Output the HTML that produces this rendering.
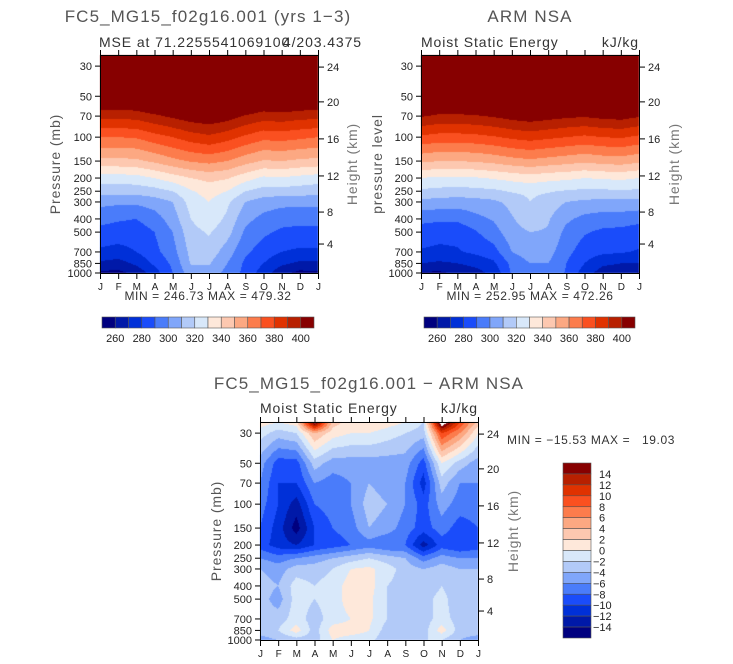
<!DOCTYPE html>
<html><head><meta charset="utf-8">
<style>
html,body{margin:0;padding:0;background:#fff;}
#wrap{position:relative;width:733px;height:664px;overflow:hidden;font-family:"Liberation Sans",sans-serif;}
canvas,svg{position:absolute;left:0;top:0;}
.tt{letter-spacing:1.1px;}
.st{letter-spacing:0.9px;}
.mm{letter-spacing:0.6px;}
</style></head>
<body>
<div id="wrap">
<canvas id="cv" width="733" height="664"></canvas>
<svg id="sv" width="733" height="664" viewBox="0 0 733 664" font-family="Liberation Sans, sans-serif">
  <text class="tt" x="208" y="22" font-size="17" fill="#555" text-anchor="middle">FC5_MG15_f02g16.001 (yrs 1−3)</text>
  <text class="st" x="99" y="47" font-size="14" fill="#333">MSE at 71.2255541069100</text>
  <text class="st" x="362" y="47" font-size="14" fill="#333" text-anchor="end">4/203.4375</text>
  <text class="tt" x="530" y="22" font-size="17" fill="#555" text-anchor="middle">ARM NSA</text>
  <text class="st" x="421" y="47" font-size="14" fill="#333">Moist Static Energy</text>
  <text class="st" x="639" y="47" font-size="14" fill="#333" text-anchor="end">kJ/kg</text>
  <text class="tt" x="369" y="389" font-size="17" fill="#555" text-anchor="middle">FC5_MG15_f02g16.001 − ARM NSA</text>
  <text class="st" x="260" y="413" font-size="14" fill="#333">Moist Static Energy</text>
  <text class="st" x="478" y="413" font-size="14" fill="#333" text-anchor="end">kJ/kg</text>
  <text class="mm" x="208" y="300" font-size="12" fill="#333" text-anchor="middle">MIN = 246.73 MAX = 479.32</text>
  <text class="mm" x="530" y="300" font-size="12" fill="#333" text-anchor="middle">MIN = 252.95 MAX = 472.26</text>
  <text class="mm" x="507" y="444" font-size="12" fill="#333" xml:space="preserve">MIN = −15.53 MAX =   19.03</text>
  <text class="st" transform="translate(60,164) rotate(-90)" font-size="14" fill="#555" text-anchor="middle">Pressure (mb)</text>
  <text class="st" transform="translate(357,164) rotate(-90)" font-size="14" fill="#777" text-anchor="middle">Height (km)</text>
  <text class="st" transform="translate(382,164) rotate(-90)" font-size="14" fill="#555" text-anchor="middle">pressure level</text>
  <text class="st" transform="translate(679,164) rotate(-90)" font-size="14" fill="#777" text-anchor="middle">Height (km)</text>
  <text class="st" transform="translate(221,531) rotate(-90)" font-size="14" fill="#555" text-anchor="middle">Pressure (mb)</text>
  <text class="st" transform="translate(518,531) rotate(-90)" font-size="14" fill="#777" text-anchor="middle">Height (km)</text>
  <g id="dyn"></g>
</svg>
</div>
<script>
// ---- shared axis data ----
const levels = [25,30,50,70,100,150,200,250,300,400,500,700,850,1000];
const pressureTicks = [30,50,70,100,150,200,250,300,400,500,700,850,1000];
const heightTickLabels = ["24","20","16","12","8","4"];
const heightTickPressures = [30.5,55,103,193,356,612];
const monthLabels = ["J","F","M","A","M","J","J","A","S","O","N","D","J"];
const colors = ['#00007f','#0019a8','#0030d8','#1a4cfa','#4a7cfa','#80a6fa','#b2caf8','#d8e8fa','#fee8da','#fdc8b0','#fca882','#fc7c4c','#fa5020','#e03200','#b82000','#870000'];
const mseBounds = [260,270,280,290,300,310,320,330,340,350,360,370,380,390,400];
const mseLabels = ["260","280","300","320","340","360","380","400"];
const diffBounds = [-14,-12,-10,-8,-6,-4,-2,0,2,4,6,8,10,12,14];
const diffLabels = ["14","12","10","8","6","4","2","0","−2","−4","−6","−8","−10","−12","−14"];

// ---- model MSE (month x level) ----
const modelJan=[455,445,415,393,370,347,325,314,303,293,287,278,268,258];
const modelFeb=[455,445,415,393,370,347,325,314,302,291,286,276,266,257];
const modelMar=[455,445,416,394,371,348,326,314,302,290,285,280,272,263];
const modelApr=[456,447,420,398,376,352,330,316,305,295,290,287,282,275];
const modelMay=[458,450,424,402,380,357,335,320,310,305,300,296,292,290];
const modelJun=[460,452,427,406,385,361,340,329,324,320,317,313,311,305];
const modelJul=[460,453,428,408,388,363,343,334,330,326,321,316,311,305];
const modelAug=[458,451,426,405,384,360,341,330,322,318,314,305,300,297];
const modelSep=[457,448,421,399,378,354,334,320,310,303,298,292,288,287];
const modelOct=[455,445,416,395,373,349,328,316,305,297,292,285,280,275];
const modelNov=[455,446,418,396,374,350,329,316,303,294,288,280,272,263];
const modelDec=[455,445,416,394,372,348,327,315,303,293,287,278,268,257];
const modelJan2=[455,445,415,393,370,347,325,314,303,293,287,278,268,258];

// ---- ARM NSA MSE ----
const obsJan=[450,442,420,401,378,352,330,318,307,293,285,279,270,259];
const obsFeb=[450,442,418,398,376,350,328,317,306,292,283,278,268,258];
const obsMar=[450,442,418,398,376,350,328,316,305,292,283,279,270,262];
const obsApr=[451,443,419,399,377,351,329,317,306,297,289,282,273,266];
const obsMay=[452,445,421,401,379,353,331,318,308,301,296,286,278,273];
const obsJun=[454,447,424,404,382,356,333,321,313,309,306,300,293,291];
const obsJul=[455,448,426,406,384,358,335,322,320,316,310,305,300,296];
const obsAug=[454,447,425,404,382,356,333,321,315,311,309,304,300,298];
const obsSep=[452,445,422,402,380,354,332,319,310,302,297,293,290,289];
const obsOct=[451,443,420,401,378,352,330,318,308,297,291,285,280,275];
const obsNov=[451,444,422,403,380,354,331,318,307,295,288,282,272,265];
const obsDec=[452,445,424,404,381,355,332,319,307,295,287,281,270,263];
const obsJan2=[450,442,420,401,378,352,330,318,307,293,285,279,270,259];

// ---- difference ----
const diffJan=[1,-1,-5,-6,-7,-8,-9,-6,-4,-3,-3,-3,-3,-5];
const diffFeb=[0,-3,-9,-10,-10,-11,-11,-7,-5,-4,-5,-3,-2,-4];
const diffMar=[1,-2,-9,-10,-13,-15,-12,-6,-3,-1,-1,-1,1,-3];
const diffApr=[17,4,-3,-6,-8,-10,-10,-5,-3,-2,-2,-3,-3,-3];
const diffMay=[3,1,-5,-7,-7,-8,-9,-4,-2,-1,-1,-1,1,0];
const diffJun=[1,0,-5,-6,-6,-7,-8,-3,0,1,1,0,1,-1];
const diffJul=[2,0,-5,-4,-3,-4,-7,-2,0.5,1,0.5,0.5,0,-1];
const diffAug=[1,-1,-5,-5,-4,-5,-8,-3,-1,-2,-2,-2,-3,-4];
const diffSep=[0,-2,-5,-6,-6,-7,-8,-4,-3,-3,-3,-3,-3,-3];
const diffOct=[-2,-3,-9,-11,-9,-9,-13,-7,-4,-4,-3,-3,-3,-2];
const diffNov=[19,10,0,-3,-5,-7,-9,-5,-3,-2,-1,-1,1,-2];
const diffDec=[10,6,-3,-6,-7,-9,-10,-6,-4,-4,-4,-3,-3,-4];
const diffJan2=[3,0,-5,-6,-7,-8,-9,-6,-4,-3,-3,-3,-3,-5];

const modelField=[modelJan,modelFeb,modelMar,modelApr,modelMay,modelJun,modelJul,modelAug,modelSep,modelOct,modelNov,modelDec,modelJan2];
const obsField=[obsJan,obsFeb,obsMar,obsApr,obsMay,obsJun,obsJul,obsAug,obsSep,obsOct,obsNov,obsDec,obsJan2];
const diffField=[diffJan,diffFeb,diffMar,diffApr,diffMay,diffJun,diffJul,diffAug,diffSep,diffOct,diffNov,diffDec,diffJan2];

const ctx=document.getElementById('cv').getContext('2d');
const dyn=document.getElementById('dyn');
const NS='http://www.w3.org/2000/svg';
function mk(tag,attrs){const e=document.createElementNS(NS,tag);for(const k in attrs)e.setAttribute(k,attrs[k]);dyn.appendChild(e);return e;}
function hex(c){return [parseInt(c.substr(1,2),16),parseInt(c.substr(3,2),16),parseInt(c.substr(5,2),16)];}
const rgb=colors.map(hex);

function valueAt(field,t,lp){
  let m=Math.floor(t); if(m>=12)m=11; if(m<0)m=0; const ft=t-m;
  let k=0; const lv=levels.map(Math.log);
  if(lp<=lv[0]){k=0;} else if(lp>=lv[lv.length-1]){k=lv.length-2;} else {while(k<lv.length-2 && lp>lv[k+1])k++;}
  let fp=(lp-lv[k])/(lv[k+1]-lv[k]); fp=Math.max(0,Math.min(1,fp));
  const a=field[m][k]*(1-fp)+field[m][k+1]*fp;
  const b=field[m+1][k]*(1-fp)+field[m+1][k+1]*fp;
  return a*(1-ft)+b*ft;
}

function panel(name,x0,y0,field,bounds,whiteAbove){
  const W=218,H=218,S=59;
  const yOf=p=>y0+H-S*Math.log(1000/p);
  const xOf=m=>x0+m*W/12;
  const img=ctx.createImageData(W,H);
  for(let j=0;j<H;j++){
    const p=1000*Math.exp(-(H-j-0.5)/S); const lp=Math.log(p);
    for(let i=0;i<W;i++){
      const t=(i+0.5)/W*12;
      const v=valueAt(field,t,lp);
      let c; if(whiteAbove!==null && v>whiteAbove){c=[255,255,255];}
      else {let idx=0; while(idx<bounds.length && v>=bounds[idx])idx++; c=rgb[idx];}
      const o=(j*W+i)*4; img.data[o]=c[0];img.data[o+1]=c[1];img.data[o+2]=c[2];img.data[o+3]=255;
    }
  }
  ctx.putImageData(img,x0,y0);
  const fr=mk('rect',{x:x0+0.5,y:y0+0.5,width:W,height:H,fill:'none',stroke:'#000','stroke-width':1});
  
  
  pressureTicks.forEach(p=>{
    const y=yOf(p);
    const l=mk('line',{x1:x0-5,x2:x0,y1:y,y2:y,stroke:'#000'});
    
    
    const t=mk('text',{x:x0-8,y:y+4,'font-size':11,'text-anchor':'end',fill:'#222'});
    t.textContent=String(p);
    
    
  });
  heightTickPressures.forEach((p,i)=>{
    const y=yOf(p);
    const l=mk('line',{x1:x0+W+1,x2:x0+W+6,y1:y,y2:y,stroke:'#000'});
    
    
    const t=mk('text',{x:x0+W+9,y:y+4,'font-size':11,fill:'#222'});
    t.textContent=heightTickLabels[i];
    
    
  });
  monthLabels.forEach((m,i)=>{
    const x=xOf(i)+0.5;
    const l1=mk('line',{x1:x,x2:x,y1:y0+H+1,y2:y0+H+6,stroke:'#000'});
    
    
    const l2=mk('line',{x1:x,x2:x,y1:y0-5,y2:y0,stroke:'#000'});
    
    
    const t=mk('text',{x:x,y:y0+H+17,'font-size':10,'text-anchor':'middle',fill:'#222'});
    t.textContent=m;
    
    
  });
}
panel('model',100,55,modelField,mseBounds,null);
panel('obs',421,55,obsField,mseBounds,null);
panel('diff',260,422,diffField,diffBounds,16);

function hbar(name,x0,y0,w,h){
  const bw=w/16;
  colors.forEach((c,i)=>{
    const r=mk('rect',{x:x0+i*bw,y:y0,width:bw,height:h,fill:c,stroke:'#555','stroke-width':0.6});
    
    
  });
  mseLabels.forEach((s,i)=>{
    const t=mk('text',{x:x0+(1+2*i)*bw,y:y0+h+14,'font-size':11,'text-anchor':'middle',fill:'#222'});
    t.textContent=s;
    
    
  });
}
hbar('model',102,317,212,11);
hbar('obs',424,317,211,11);

(function(){
  const x0=563,y0=463,w=28,h=175,bh=h/16;
  colors.slice().reverse().forEach((c,i)=>{
    const r=mk('rect',{x:x0,y:y0+i*bh,width:w,height:bh,fill:c,stroke:'#555','stroke-width':0.6});
    
    
  });
  diffLabels.forEach((s,i)=>{
    const t=mk('text',{x:x0+w+(s.length>1&&s[0]=='−'?2:8),y:y0+(i+1)*bh+4,'font-size':11,fill:'#222'});
    t.textContent=s;
    
    
  });
})();
</script>
</body></html>
